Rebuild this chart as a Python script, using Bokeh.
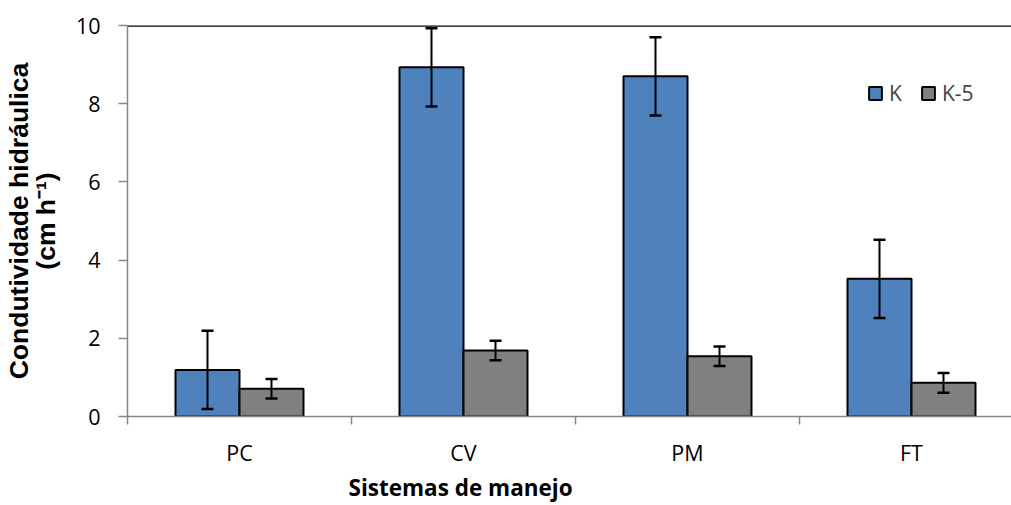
import numpy as np
from bokeh.plotting import figure
from bokeh.models import (ColumnDataSource, Range1d, FixedTicker, Whisker, TeeHead,
                          Span, Legend, Title)
from bokeh.transform import dodge
from bokeh.embed import file_html
from bokeh.resources import INLINE

# ---- data ----
categories = ["PC", "CV", "PM", "FT"]
k_values = [1.19, 8.93, 8.70, 3.52]
k_errors = [1.0, 1.0, 1.0, 1.0]
k5_values = [0.71, 1.69, 1.54, 0.86]
k5_errors = [0.25, 0.25, 0.25, 0.25]
y_ticks = [0, 2, 4, 6, 8, 10]
series_names = ["K", "K-5"]

BLUE = "#4F81BD"
GRAY = "#808080"
AXIS_GRAY = "#868686"
bar_w = 0.2857
off = bar_w / 2

centers = np.arange(len(categories)) + 0.5
src = ColumnDataSource(dict(
    x=centers,
    k=k_values,
    k_up=[v + e for v, e in zip(k_values, k_errors)],
    k_lo=[v - e for v, e in zip(k_values, k_errors)],
    k5=k5_values,
    k5_up=[v + e for v, e in zip(k5_values, k5_errors)],
    k5_lo=[v - e for v, e in zip(k5_values, k5_errors)],
))

p = figure(width=1011, height=505, output_backend="svg", toolbar_location=None,
           x_range=Range1d(0, 884 / 224), y_range=Range1d(0, 10),
           min_border_left=127, min_border_right=0, min_border_top=25,
           min_border_bottom=89)
p.outline_line_color = None
p.xgrid.visible = False
p.ygrid.visible = False

r1 = p.vbar(x=dodge("x", -off, range=p.x_range), top="k", width=bar_w, source=src,
            fill_color=BLUE, line_color="black", line_width=2)
r2 = p.vbar(x=dodge("x", off, range=p.x_range), top="k5", width=bar_w, source=src,
            fill_color=GRAY, line_color="black", line_width=2)

for base, up, lo in [(-off, "k_up", "k_lo"), (off, "k5_up", "k5_lo")]:
    p.add_layout(Whisker(base=dodge("x", base, range=p.x_range), upper=up, lower=lo,
                         source=src, line_color="black", line_width=2, level="annotation",
                         upper_head=TeeHead(size=12, line_width=2.5, line_color="black"),
                         lower_head=TeeHead(size=12, line_width=2.5, line_color="black")))

# top border line at y = 10
p.add_layout(Span(location=10, dimension="width", line_color="black", line_width=2.5))

# y axis
p.yaxis.ticker = FixedTicker(ticks=y_ticks)
p.yaxis.axis_line_color = AXIS_GRAY
p.yaxis.axis_line_width = 1.5
p.yaxis.major_tick_line_color = AXIS_GRAY
p.yaxis.major_tick_line_width = 1.5
p.yaxis.major_tick_out = 9
p.yaxis.major_tick_in = 0
p.yaxis.minor_tick_line_color = None
p.yaxis.major_label_standoff = 18
p.yaxis.major_label_text_font = "Open Sans"
p.yaxis.major_label_text_font_size = "21.5px"
p.yaxis.major_label_text_color = "black"
p.yaxis.axis_label = "Condutividade hidráulica\n(cm h\u207b\u00b9)"
p.yaxis.axis_label_text_font = "Liberation Sans"
p.yaxis.axis_label_text_font_style = "bold"
p.yaxis.axis_label_text_font_size = "26.5px"
p.yaxis.axis_label_text_line_height = 0.9
p.yaxis.axis_label_text_color = "black"
p.yaxis.axis_label_standoff = 12

# x axis: labels at category centres, ticks at boundaries
p.xaxis.ticker = FixedTicker(ticks=list(centers),
                             minor_ticks=list(np.arange(len(categories) + 1)))
p.xaxis.major_label_overrides = {float(c): n for c, n in zip(centers, categories)}
p.xaxis.axis_line_color = AXIS_GRAY
p.xaxis.axis_line_width = 1.5
p.xaxis.major_tick_line_color = None
p.xaxis.major_tick_out = 0
p.xaxis.major_tick_in = 0
p.xaxis.minor_tick_line_color = AXIS_GRAY
p.xaxis.minor_tick_line_width = 1.5
p.xaxis.minor_tick_out = 8
p.xaxis.minor_tick_in = 0
p.xaxis.major_label_standoff = 13
p.xaxis.major_label_text_font = "Open Sans"
p.xaxis.major_label_text_font_size = "21.5px"
p.xaxis.major_label_text_color = "black"

# x axis title (offset from the frame's left edge, as in the reference)
p.add_layout(Title(text="Sistemas de manejo", align="left", offset=221,
                   vertical_align="bottom", standoff=1,
                   text_font="Open Sans", text_font_style="bold",
                   text_font_size="22.5px", text_color="black"), "below")

legend = Legend(items=[(series_names[0], [r1]), (series_names[1], [r2])],
                orientation="horizontal", location=(740, 309),
                glyph_width=16, glyph_height=16, label_standoff=6, spacing=11,
                padding=0, margin=0, border_line_color=None, background_fill_alpha=0,
                label_text_font="Open Sans", label_text_font_size="21px",
                label_height=20)
p.add_layout(legend)

open("out.html", "w").write(file_html(p, INLINE))
